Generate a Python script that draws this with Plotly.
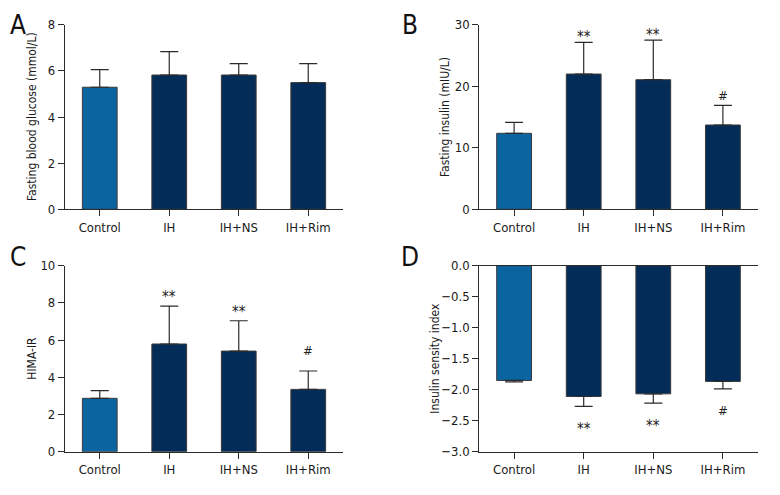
import plotly.graph_objects as go

groups = ["Control", "IH", "IH+NS", "IH+Rim"]

glucose_mean = [5.29, 5.82, 5.82, 5.49]
glucose_sd = [0.76, 1.01, 0.49, 0.82]

insulin_mean = [12.35, 21.98, 21.06, 13.7]
insulin_sd = [1.78, 5.15, 6.44, 3.2]

homa_mean = [2.87, 5.79, 5.41, 3.35]
homa_sd = [0.41, 2.04, 1.63, 0.99]

isi_mean = [-1.851, -2.11, -2.067, -1.867]
isi_sd = [0.022, 0.16, 0.151, 0.119]

sig_marks = ["", "**", "**", "#"]

light = "#0a64a0"
dark = "#032d58"
bar_colors = [light, dark, dark, dark]
line_col = "#2b2b2b"
FONT = "Liberation Sans Narrow, DejaVu Sans Condensed, Arial Narrow, sans-serif"

W, H = 780, 495
OFF = 8  # page body margin offset


def fx(px):
    return (px - OFF) / W


def fy(px):
    return 1 - (px - OFF) / H


fig = go.Figure()

panels = [
    ("x", "y", glucose_mean, glucose_sd, False, "Fasting blood glucose (mmol/L)", [0, 8], 2, "A", None, 32),
    ("x2", "y2", insulin_mean, insulin_sd, False, "Fasting insulin (mIU/L)", [0, 30], 10, "B", (-6, 0), 445),
    ("x3", "y3", homa_mean, homa_sd, False, "HIMA-IR", [0, 10], 2, "C", (-2, 11), 32),
    ("x4", "y4", isi_mean, isi_sd, True, "Insulin sensity index", [-3, 0], 0.5, "D", (-12, -12), 435),
]

xdom = {"x": [fx(65), fx(343)], "x2": [fx(479.3), fx(757.7)],
        "x3": [fx(65), fx(343)], "x4": [fx(479.3), fx(757.7)]}
ydom = {"y": [fy(209.3), fy(24.7)], "y2": [fy(209.3), fy(24.7)],
        "y3": [fy(451.7), fy(265.7)], "y4": [fy(451.7), fy(265.7)]}

layout = {}
annotations = []
for xa, ya, means, sds, neg, title, rng, dtick, letter, sig, title_x in panels:
    if neg:
        err = dict(type="data", symmetric=False, array=[0]*4, arrayminus=sds,
                   color=line_col, thickness=1.2, width=9)
    else:
        err = dict(type="data", symmetric=False, array=sds, arrayminus=[0]*4,
                   color=line_col, thickness=1.2, width=9)
    fig.add_trace(go.Bar(
        x=groups, y=means, xaxis=xa, yaxis=ya, width=0.5,
        marker=dict(color=bar_colors, line=dict(color="#3a3a3a", width=1)),
        error_y=err, showlegend=False,
    ))
    xk = "xaxis" + xa[1:]
    yk = "yaxis" + ya[1:]
    layout[xk] = dict(
        domain=xdom[xa], anchor=ya, range=[-0.5, 3.5], showline=True,
        linecolor=line_col, linewidth=1.2, ticks="outside", ticklen=6,
        tickcolor=line_col, tickwidth=1.2, showgrid=False, zeroline=False,
        mirror=True if neg else False, automargin=False,
        tickfont=dict(family=FONT, size=13, color="#1a1a1a"),
    )
    layout[yk] = dict(
        domain=ydom[ya], anchor=xa, range=rng, dtick=dtick, showline=True,
        linecolor=line_col, linewidth=1.2, ticks="outside", ticklen=6,
        tickcolor=line_col, tickwidth=1.2, showgrid=False, zeroline=False,
        tickformat=".1f" if neg else "d", automargin=False,
        tickfont=dict(family=FONT, size=13, color="#1a1a1a"),
    )
    # y-axis title as rotated annotation
    annotations.append(dict(text=title, x=fx(title_x), y=sum(ydom[ya]) / 2,
                            xref="paper", yref="paper", showarrow=False, textangle=-90,
                            xanchor="center", yanchor="middle",
                            font=dict(family=FONT, size=12, color="#1a1a1a")))
    # panel letter
    lx = fx(18) if xa in ("x", "x3") else fx(410)
    if ya in ("y", "y2"):
        annotations.append(dict(text=letter, x=lx, y=1.0, xref="paper", yref="paper",
                                showarrow=False, font=dict(family=FONT, size=26, color="#111"),
                                xanchor="center", yanchor="top"))
    else:
        annotations.append(dict(text=letter, x=lx, y=fy(257), xref="paper", yref="paper",
                                showarrow=False, font=dict(family=FONT, size=26, color="#111"),
                                xanchor="center", yanchor="middle"))
    if sig:
        star_shift, hash_shift = sig
        for g, m, s, mark in zip(groups, means, sds, sig_marks):
            if not mark:
                continue
            fsize = 15 if mark == "**" else 13
            shift = star_shift if mark == "**" else hash_shift
            if neg:
                annotations.append(dict(text=mark, x=g, y=m - s, xref=xa, yref=ya, showarrow=False,
                                        yanchor="top", yshift=shift,
                                        font=dict(family=FONT, size=fsize, color="#222")))
            else:
                annotations.append(dict(text=mark, x=g, y=m + s, xref=xa, yref=ya, showarrow=False,
                                        yanchor="bottom", yshift=shift,
                                        font=dict(family=FONT, size=fsize, color="#222")))

fig.update_layout(**layout)
fig.update_layout(
    width=W, height=H, margin=dict(l=0, r=0, t=0, b=0),
    plot_bgcolor="white", paper_bgcolor="white", bargap=0.5,
    annotations=annotations, font=dict(family=FONT),
)

fig.write_html("out.html")
